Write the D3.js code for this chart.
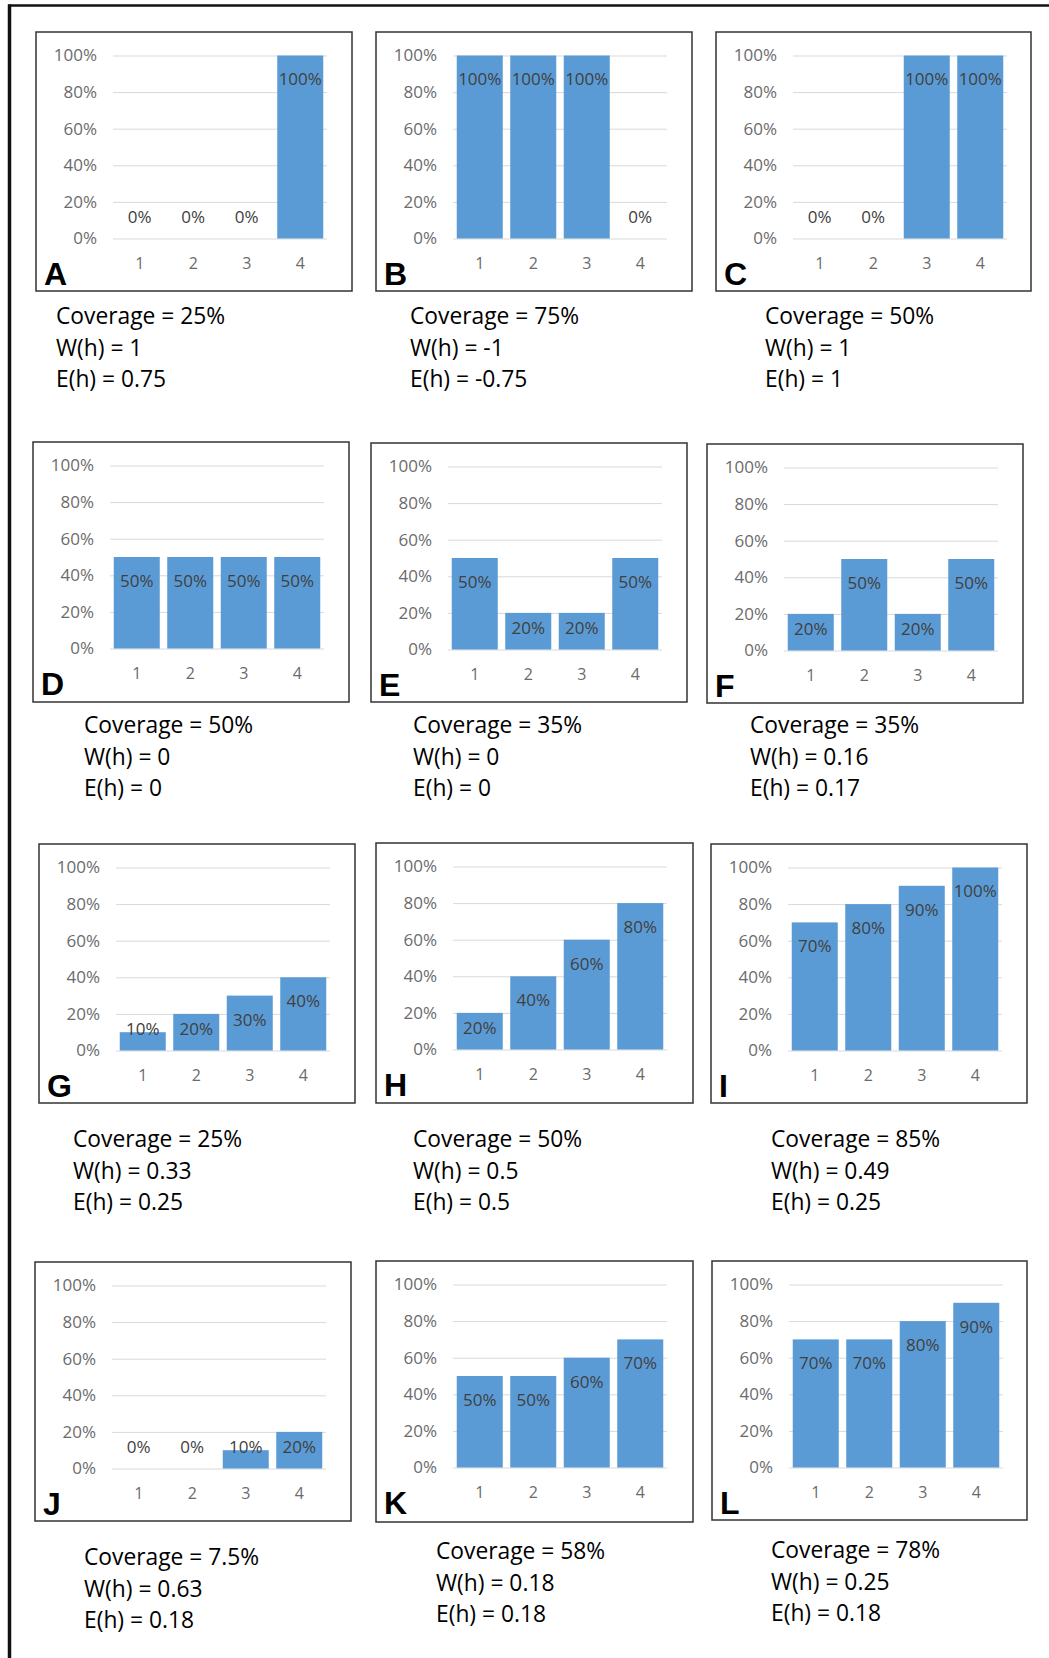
<!DOCTYPE html>
<html>
<head>
<meta charset="utf-8">
<script src="https://cdn.jsdelivr.net/npm/d3@7"></script>
<style>
  html, body { margin: 0; padding: 0; background: #fff; }
  svg { display: block; }
</style>
</head>
<body>
<svg id="chart" width="1049" height="1658"></svg>
<script>
// ---------- DATA ----------
const panelLetters = ["A","B","C","D","E","F","G","H","I","J","K","L"];
const categories = ["1","2","3","4"];
const yTicks = [0, 0.2, 0.4, 0.6, 0.8, 1.0];

const valuesA = [0, 0, 0, 1.0];
const valuesB = [1.0, 1.0, 1.0, 0];
const valuesC = [0, 0, 1.0, 1.0];
const valuesD = [0.5, 0.5, 0.5, 0.5];
const valuesE = [0.5, 0.2, 0.2, 0.5];
const valuesF = [0.2, 0.5, 0.2, 0.5];
const valuesG = [0.1, 0.2, 0.3, 0.4];
const valuesH = [0.2, 0.4, 0.6, 0.8];
const valuesI = [0.7, 0.8, 0.9, 1.0];
const valuesJ = [0, 0, 0.1, 0.2];
const valuesK = [0.5, 0.5, 0.6, 0.7];
const valuesL = [0.7, 0.7, 0.8, 0.9];

const coverageLabels = ["25%","75%","50%","50%","35%","35%","25%","50%","85%","7.5%","58%","78%"];
const wLabels = ["1","-1","1","0","0","0.16","0.33","0.5","0.49","0.63","0.18","0.25"];
const eLabels = ["0.75","-0.75","1","0","0","0.17","0.25","0.5","0.25","0.18","0.18","0.18"];

const allValues = [valuesA,valuesB,valuesC,valuesD,valuesE,valuesF,valuesG,valuesH,valuesI,valuesJ,valuesK,valuesL];

// ---------- LAYOUT ----------
const boxes = [
  [36,32,316,259],[376,32,316,259],[716,32,315,259],
  [33,442,316,260],[371,443,316,259],[707,444,316,259],
  [39,844,316,259],[376,843,317,260],[711,844,316,259],
  [35,1262,316,259],[376,1261,317,261],[712,1261,315,259]
];
const textPos = [
  [56,324],[410,324],[765,324],
  [84,733],[413,733],[750,733],
  [73,1147],[413,1147],[771,1147],
  [84,1565],[436,1559],[771,1558]
];

const svg = d3.select("#chart");

// outer frame (top and left)
svg.append("line").attr("x1",8).attr("x2",1049).attr("y1",5.5).attr("y2",5.5)
  .attr("stroke","#111").attr("stroke-width",2.5);
svg.append("line").attr("x1",9.5).attr("x2",9.5).attr("y1",4.5).attr("y2",1658)
  .attr("stroke","#111").attr("stroke-width",3.5);

const fmt = d3.format(".0%");
const barColor = "#5b9bd5";

panelLetters.forEach((letter, i) => {
  const [bx, by, bw, bh] = boxes[i];
  const vals = allValues[i];
  const g = svg.append("g").attr("transform", `translate(${bx},${by})`);

  g.append("rect").attr("x",0).attr("y",0).attr("width",bw).attr("height",bh)
    .attr("fill","#fff").attr("stroke","#333").attr("stroke-width",1.5);

  const x = d3.scaleBand().domain(categories).range([77, 291])
    .paddingInner(0.14).paddingOuter(0.07);
  const y = d3.scaleLinear().domain([0, 1]).range([206.5, 23.5]);

  // gridlines
  const grid = d3.axisLeft(y).tickValues(yTicks).tickSize(-(291 - 77)).tickFormat("");
  const gg = g.append("g").attr("transform","translate(77,0)").call(grid);
  gg.select(".domain").remove();
  gg.selectAll("line").attr("stroke","#d9d9d9").attr("stroke-width",1);

  // y tick labels
  const yAxis = d3.axisLeft(y).tickValues(yTicks).tickFormat(fmt).tickSize(0).tickPadding(0);
  const ya = g.append("g").attr("transform","translate(61,0)").call(yAxis);
  ya.select(".domain").remove();
  ya.selectAll("text").attr("fill","#6b6b6b").attr("font-family","'Open Sans', sans-serif")
    .attr("font-size","17px");

  // x tick labels
  const xAxis = d3.axisBottom(x).tickSize(0).tickPadding(0);
  const xa = g.append("g").attr("transform","translate(0,226)").call(xAxis);
  xa.select(".domain").remove();
  xa.selectAll("text").attr("fill","#6b6b6b").attr("font-family","'Open Sans', sans-serif")
    .attr("font-size","16px");

  // bars
  g.selectAll("rect.bar").data(vals).enter().append("rect").attr("class","bar")
    .attr("x",(d,k) => x(categories[k]))
    .attr("width", x.bandwidth())
    .attr("y", d => y(d))
    .attr("height", d => y(0) - y(d))
    .attr("fill", barColor);

  // data labels
  g.selectAll("text.lbl").data(vals).enter().append("text").attr("class","lbl")
    .attr("x",(d,k) => x(categories[k]) + x.bandwidth()/2)
    .attr("y", d => Math.min(y(d) + 24, y(0) - 21))
    .attr("dy","0.35em")
    .attr("text-anchor","middle")
    .attr("fill","#404040")
    .attr("font-family","'Open Sans', sans-serif")
    .attr("font-size","17px")
    .text(d => fmt(d));

  // panel letter
  g.append("text").attr("x",8).attr("y",253)
    .attr("font-family","'Liberation Sans', Arial, sans-serif")
    .attr("font-weight","bold").attr("font-size","32px").attr("fill","#000")
    .text(letter);

  // statistics text
  const [tx, ty] = textPos[i];
  const lines = [
    `Coverage = ${coverageLabels[i]}`,
    `W(h) = ${wLabels[i]}`,
    `E(h) = ${eLabels[i]}`
  ];
  svg.append("g").selectAll("text").data(lines).enter().append("text")
    .attr("x", tx).attr("y",(d,k) => ty + k*31.7)
    .attr("font-family","'Open Sans', sans-serif").attr("font-size","22.8px")
    .attr("fill","#000").text(d => d);
});
</script>
</body>
</html>
